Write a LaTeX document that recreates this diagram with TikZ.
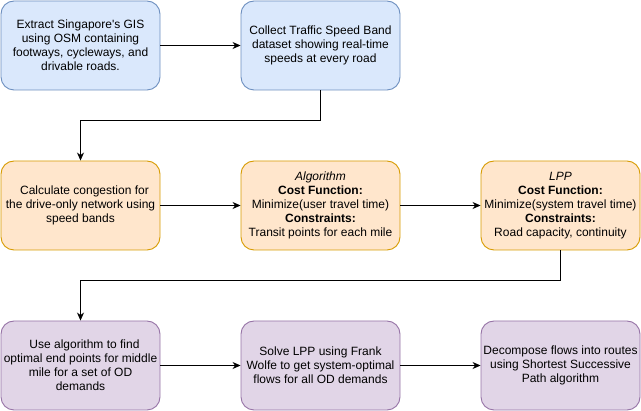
\documentclass[tikz,border=0pt]{standalone}
\usepackage{fontspec}
\setmainfont{Liberation Sans}
\usepackage{tikz}
\usetikzlibrary{arrows}
\usetikzlibrary{arrows.meta}
\usetikzlibrary{positioning}
\definecolor{blueFill}{HTML}{DAE8FC}
\definecolor{blueLine}{HTML}{6C8EBF}
\definecolor{orangeFill}{HTML}{FFE6CC}
\definecolor{orangeLine}{HTML}{D79B00}
\definecolor{purpleFill}{HTML}{E1D5E7}
\definecolor{purpleLine}{HTML}{9673A6}

\tikzset{
  stepBox/.style={rounded corners=13pt, minimum width=159pt, minimum height=89pt,
    inner sep=0pt, align=center, line width=0.9pt,
    font=\fontsize{12}{14}\selectfont},
  blueBox/.style={stepBox, draw=blueLine, fill=blueFill},
  orangeBox/.style={stepBox, draw=orangeLine, fill=orangeFill},
  purpleBox/.style={stepBox, draw=purpleLine, fill=purpleFill},
  flow/.style={-{Stealth[length=8pt,width=7pt,inset=2.5pt]}, line width=0.9pt}
}

\begin{document}
\begin{tikzpicture}[x=1pt, y=-1pt] % 1pt = 1 Pixel, y nach unten

\useasboundingbox (0,0) rectangle (641,411);

% Erste Zeile: Daten
\node[blueBox] (extract) at (80.5,45.5) {Extract Singapore\textquotesingle s GIS\\using OSM containing\\footways, cycleways, and\\drivable roads.};
\node[blueBox] (collect) at (320.5,45.5) {Collect Traffic Speed Band\\dataset showing real-time\\speeds at every road};

% Zweite Zeile: Modelle
\node[orangeBox] (congestion) at (80.5,205.5) {\hspace*{8pt}Calculate congestion for\\the drive-only network using\\speed bands};
\node[orangeBox] (algo) at (320.5,205.5) {\textit{Algorithm}\\\textbf{Cost Function:}\\Minimize(user travel time)\\\textbf{Constraints:}\\Transit points for each mile};
\node[orangeBox] (lpp) at (560.5,205.5) {\textit{LPP}\\\textbf{Cost Function:}\\Minimize(system travel time)\\\textbf{Constraints:}\\Road capacity, continuity};

% Dritte Zeile: Lösung
\node[purpleBox] (endpoints) at (80.5,365.5) {\hspace*{8pt}Use algorithm to find\\optimal end points for middle\\mile for a set of OD\\demands};
\node[purpleBox] (frank) at (320.5,365.5) {Solve LPP using Frank\\Wolfe to get system-optimal\\flows for all OD demands};
\node[purpleBox] (decomp) at (560.5,365.5) {Decompose flows into routes\\using Shortest Successive\\Path algorithm};

% Pfeile
\draw[flow] (extract) -- (collect);
\draw[flow] (collect.south) -- ++(0,30) -| (congestion.north);
\draw[flow] (congestion) -- (algo);
\draw[flow] (algo) -- (lpp);
\draw[flow] (lpp.south) -- ++(0,30) -| (endpoints.north);
\draw[flow] (endpoints) -- (frank);
\draw[flow] (frank) -- (decomp);

\end{tikzpicture}
\end{document}
